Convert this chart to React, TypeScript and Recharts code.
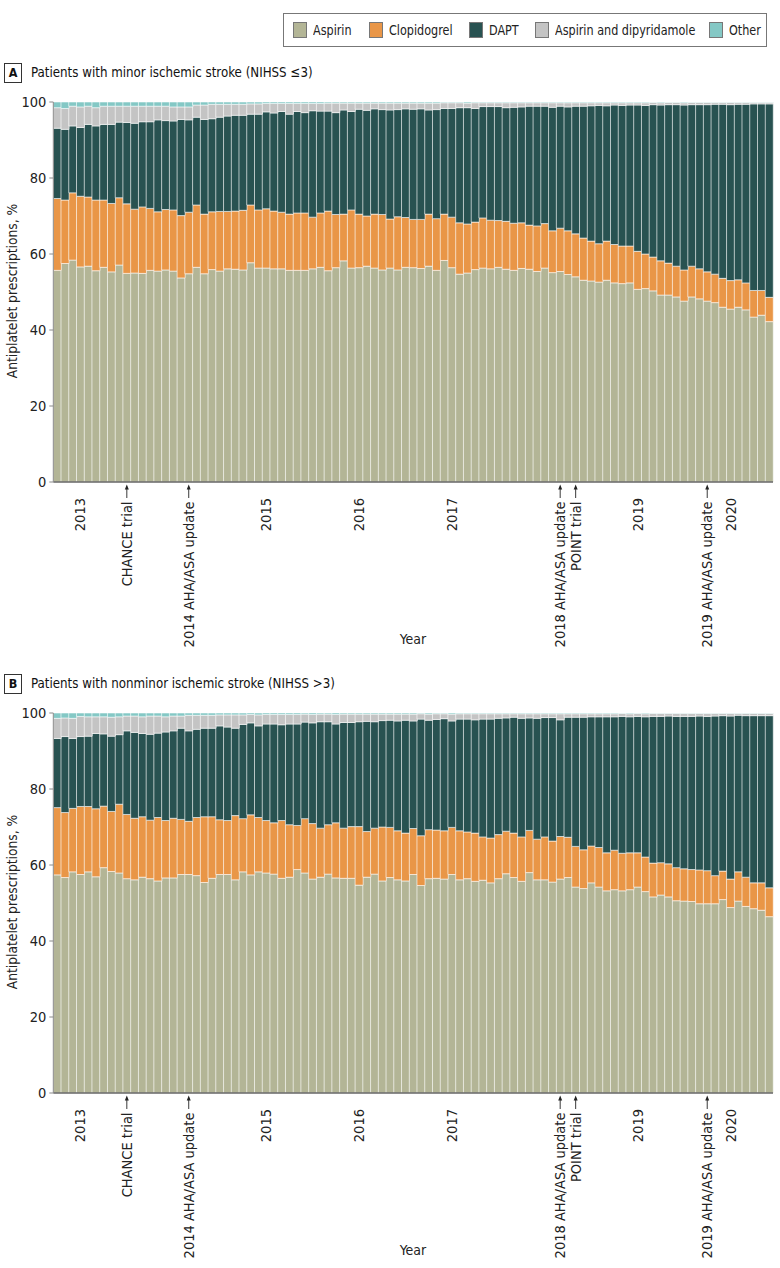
import React from "react";
import { Bar, BarChart, XAxis, YAxis } from "recharts";

const FONT = '"DejaVu Sans Condensed", "Liberation Sans Narrow", "Arial Narrow", sans-serif';

const COLORS = {
  aspirin: "#b3b596",
  clopidogrel: "#e99647",
  dapt: "#285251",
  ad: "#c4c4c4",
  other: "#84c8c5",
};

// monthly bars, Oct 2012 to Jun 2020
const months: string[] = [];
for (let y = 2012; y <= 2020; y++) {
  for (let m = 1; m <= 12; m++) {
    if ((y === 2012 && m < 10) || (y === 2020 && m > 6)) continue;
    months.push(`${y}-${String(m).padStart(2, "0")}`);
  }
}

const yearTicks: Record<string, string> = {
  "2013-01": "2013",
  "2015-01": "2015",
  "2016-01": "2016",
  "2017-01": "2017",
  "2019-01": "2019",
  "2020-01": "2020",
};

const events: Record<string, string> = {
  "2013-07": "CHANCE trial",
  "2014-03": "2014 AHA/ASA update",
  "2018-03": "2018 AHA/ASA update",
  "2018-05": "POINT trial",
  "2019-10": "2019 AHA/ASA update",
};

// Panel A (minor stroke): upper edge of each band, %
const aspirinA = [
  55.7, 57.5, 58.4, 56.6, 56.8, 55.6, 56.5, 55.3, 57.1, 54.9, 55.0, 54.9, 55.7, 55.5, 55.8, 55.5, 53.7, 54.8, 56.5, 54.8, 55.9, 55.5, 56.1,
  56.0, 55.8, 57.7, 56.3, 56.3, 56.1, 56.1, 55.7, 55.7, 55.7, 56.1, 56.5, 55.6, 56.4, 58.2, 56.3, 56.4, 56.8, 56.3, 55.8, 56.3, 55.8, 56.5,
  56.4, 56.2, 56.8, 55.7, 58.3, 56.4, 54.7, 55.0, 55.9, 56.3, 56.1, 56.5, 56.0, 55.7, 56.2, 56.0, 55.4, 56.3, 55.1, 55.4, 54.6, 54.0, 53.1,
  52.9, 52.6, 53.1, 52.4, 52.2, 52.4, 50.7, 50.9, 50.3, 49.2, 49.2, 48.7, 47.6, 48.7, 48.2, 47.6, 47.2, 46.0, 45.5, 46.0, 45.3, 43.4, 43.9, 42.2,
];
const clopTopA = [
  74.6, 74.2, 76.1, 75.2, 75.0, 74.2, 74.2, 73.3, 74.8, 73.2, 71.8, 72.4, 72.0, 71.1, 71.7, 71.6, 70.1, 71.0, 72.9, 70.5, 71.1, 71.2, 71.2,
  71.3, 71.5, 72.9, 71.6, 71.9, 71.3, 71.0, 70.5, 70.8, 70.8, 69.7, 70.8, 71.3, 70.4, 70.5, 71.6, 70.5, 70.0, 70.5, 70.4, 69.2, 69.8, 69.6,
  69.1, 69.1, 70.5, 69.3, 70.5, 69.7, 68.2, 67.9, 68.4, 69.5, 68.9, 68.8, 68.6, 68.1, 68.2, 67.6, 67.4, 68.0, 66.1, 66.8, 66.1, 65.3, 64.2,
  63.4, 62.7, 63.4, 62.5, 62.1, 62.1, 60.7, 60.0, 59.2, 58.2, 57.6, 56.8, 55.8, 56.8, 56.1, 55.3, 54.7, 53.6, 53.0, 53.2, 52.4, 50.4, 50.4, 48.6,
];
const daptTopA = [
  93.1, 92.8, 93.7, 93.3, 94.1, 93.7, 94.1, 94.1, 94.7, 94.6, 94.4, 94.8, 94.8, 95.3, 95.1, 95.0, 95.4, 95.3, 96.0, 95.4, 95.6, 96.0, 96.3,
  96.5, 96.5, 96.8, 96.8, 97.4, 97.1, 97.5, 96.8, 97.5, 97.2, 97.7, 97.6, 97.6, 97.2, 97.9, 97.5, 98.1, 97.8, 98.2, 98.0, 97.9, 98.0, 98.2,
  98.1, 98.2, 97.9, 98.0, 98.3, 98.3, 98.5, 98.5, 98.3, 98.8, 98.8, 98.8, 98.5, 98.6, 98.7, 98.9, 98.9, 98.9, 98.6, 98.9, 98.7, 98.9, 98.9,
  99.0, 99.1, 99.0, 99.2, 99.1, 99.2, 99.2, 99.1, 99.3, 99.2, 99.3, 99.3, 99.2, 99.3, 99.3, 99.3, 99.4, 99.4, 99.3, 99.4, 99.4, 99.5, 99.5, 99.5,
];
const adTopA = [
  98.5, 98.3, 98.9, 98.7, 98.9, 98.5, 98.9, 98.9, 98.9, 98.9, 98.9, 98.9, 98.9, 98.9, 98.9, 98.7, 98.7, 98.7, 99.2, 99.2, 99.4, 99.4, 99.4,
  99.4, 99.4, 99.5, 99.5, 99.6, 99.6, 99.6, 99.6, 99.6, 99.6, 99.6, 99.6, 99.7, 99.7, 99.7, 99.7, 99.7, 99.7, 99.7, 99.7, 99.7, 99.7, 99.7,
  99.7, 99.7, 99.7, 99.7, 99.8, 99.8, 99.8, 99.7, 99.8, 99.8, 99.8, 99.8, 99.8, 99.8, 99.8, 99.8, 99.8, 99.8, 99.8, 99.8, 99.8, 99.8, 99.8,
  99.8, 99.8, 99.8, 99.8, 99.8, 99.8, 99.8, 99.8, 99.9, 99.8, 99.9, 99.9, 99.8, 99.9, 99.9, 99.9, 99.9, 99.9, 99.9, 99.9, 99.9, 99.9, 99.9, 99.9,
];

// Panel B (nonminor stroke)
const aspirinB = [
  57.4, 56.7, 58.2, 57.5, 58.2, 56.9, 59.3, 58.3, 57.9, 56.4, 56.1, 56.8, 56.4, 55.8, 56.6, 56.6, 57.5, 57.5, 57.2, 55.4, 56.5, 57.5, 57.5,
  56.1, 58.2, 57.4, 58.2, 57.9, 57.6, 56.5, 56.8, 58.8, 57.9, 56.3, 56.8, 57.6, 56.6, 56.5, 56.5, 54.7, 56.8, 57.6, 55.8,
  56.7, 56.1, 55.8, 57.5, 54.6, 56.4, 56.5, 56.3, 57.5, 56.1, 56.4, 55.7, 56.0, 55.3, 56.4, 57.7, 56.7, 55.7, 58.0, 56.1, 56.1, 55.5, 56.3, 56.7,
  54.2, 53.8, 55.3, 54.2, 53.2, 53.5, 53.2, 53.5, 54.2, 53.0, 51.6, 52.1, 51.6, 50.6, 50.5, 50.4, 49.8, 49.8, 49.8, 50.9, 48.8, 50.5, 49.1, 48.5, 48.1, 46.4,
];
const clopTopB = [
  75.1, 73.8, 74.9, 75.4, 75.4, 74.8, 75.5, 74.1, 76.0, 73.3, 72.3, 72.7, 71.8, 72.5, 71.7, 72.3, 72.0, 71.5, 72.5, 72.7, 72.7, 71.9, 71.7,
  73.0, 72.2, 73.2, 72.5, 71.7, 71.1, 71.7, 70.6, 70.4, 72.2, 70.9, 69.7, 70.6, 71.1, 69.7, 70.1, 70.1, 68.8, 69.7, 70.0,
  69.9, 69.0, 68.4, 69.6, 67.7, 69.3, 69.2, 69.0, 69.9, 69.0, 68.7, 68.4, 67.4, 67.1, 68.0, 68.9, 68.4, 67.4, 69.1, 66.8, 67.4, 66.3, 67.5, 67.3,
  64.9, 64.0, 65.0, 64.6, 63.2, 63.9, 63.1, 63.2, 63.2, 62.1, 60.5, 60.6, 60.3, 59.3, 59.0, 58.8, 58.7, 58.5, 57.2, 58.4, 56.3, 58.2, 56.8, 55.3, 55.3, 54.0,
];
const daptTopB = [
  93.3, 93.8, 93.3, 93.8, 93.9, 94.6, 94.5, 93.9, 94.3, 95.3, 94.9, 94.6, 94.4, 94.7, 95.0, 95.3, 96.0, 95.3, 95.7, 96.0, 96.0, 96.6, 96.3,
  96.0, 97.0, 97.4, 96.6, 97.1, 97.1, 96.9, 97.1, 97.1, 97.6, 97.4, 97.7, 97.7, 97.1, 97.5, 97.5, 97.7, 97.8, 97.7, 98.0,
  98.1, 97.9, 98.1, 97.9, 98.4, 98.1, 98.3, 98.5, 97.9, 98.4, 98.4, 98.2, 98.4, 98.4, 98.6, 98.7, 98.9, 98.6, 98.7, 98.6, 98.8, 98.8, 98.2, 98.9,
  98.9, 98.9, 99.0, 99.0, 99.0, 99.0, 99.1, 99.0, 99.1, 99.0, 99.1, 99.1, 99.2, 99.1, 99.1, 99.1, 99.2, 99.1, 99.2, 99.3, 99.2, 99.4, 99.3, 99.3, 99.3, 99.3,
];
const adTopB = [
  98.6, 98.7, 98.6, 99.1, 99.0, 99.0, 99.0, 98.9, 99.0, 99.2, 99.2, 99.0, 99.2, 99.2, 99.0, 99.2, 99.2, 99.4, 99.4, 99.4, 99.4, 99.5, 99.5,
  99.5, 99.5, 99.6, 99.5, 99.6, 99.6, 99.6, 99.6, 99.6, 99.7, 99.6, 99.7, 99.7, 99.6, 99.7, 99.7, 99.7, 99.7, 99.7, 99.7,
  99.7, 99.7, 99.7, 99.7, 99.8, 99.7, 99.8, 99.8, 99.7, 99.8, 99.8, 99.8, 99.8, 99.8, 99.8, 99.8, 99.8, 99.8, 99.8, 99.8, 99.8, 99.8, 99.8, 99.8,
  99.8, 99.8, 99.8, 99.8, 99.8, 99.8, 99.9, 99.8, 99.9, 99.8, 99.9, 99.9, 99.9, 99.9, 99.9, 99.9, 99.9, 99.9, 99.9, 99.9, 99.9, 99.9, 99.9, 99.9, 99.9, 99.9,
];

type Row = { month: string; aspirin: number; clopidogrel: number; dapt: number; ad: number; other: number };

function buildRows(asp: number[], clop: number[], dapt: number[], ad: number[]): Row[] {
  return months.map((month, i) => ({
    month,
    aspirin: asp[i],
    clopidogrel: clop[i] - asp[i],
    dapt: dapt[i] - clop[i],
    ad: ad[i] - dapt[i],
    other: 100 - ad[i],
  }));
}

const rowsA = buildRows(aspirinA, clopTopA, daptTopA, adTopA);
const rowsB = buildRows(aspirinB, clopTopB, daptTopB, adTopB);

const series: { key: keyof typeof COLORS; name: string }[] = [
  { key: "aspirin", name: "Aspirin" },
  { key: "clopidogrel", name: "Clopidogrel" },
  { key: "dapt", name: "DAPT" },
  { key: "ad", name: "Aspirin and dipyridamole" },
  { key: "other", name: "Other" },
];

function MonthTick(props: any) {
  const { x, y, payload } = props;
  const v = payload?.value;
  if (events[v]) {
    return (
      <g>
        <line x1={x} y1={y + 5} x2={x} y2={y + 16} stroke="#222" strokeWidth={0.9} />
        <path d={`M${x - 2},${y + 7.5} L${x},${y + 2.5} L${x + 2},${y + 7.5} Z`} fill="#222" />
        <text
          transform={`translate(${x},${y + 19.5}) rotate(-90)`}
          textAnchor="end"
          dy="0.35em"
          fontSize={14.5}
          fill="#222"
          fontFamily={FONT}
        >
          {events[v]}
        </text>
      </g>
    );
  }
  if (yearTicks[v]) {
    return (
      <text
        transform={`translate(${x},${y + 16}) rotate(-90)`}
        textAnchor="end"
        dy="0.35em"
        fontSize={14.5}
        fill="#222"
        fontFamily={FONT}
      >
        {yearTicks[v]}
      </text>
    );
  }
  return <g />;
}

// condensed text: the reference face is narrower than DejaVu Sans Condensed
const squeeze = (k: number): React.CSSProperties => ({
  display: "inline-block",
  transform: `scaleX(${k})`,
  transformOrigin: "left center",
  whiteSpace: "nowrap",
});

function Panel({ rows, plotTop, letter, title }: { rows: Row[]; plotTop: number; letter: string; title: string }) {
  return (
    <>
      <div
        style={{
          position: "absolute",
          left: 4,
          top: plotTop - 39,
          width: 16,
          height: 18,
          border: "1px solid #333",
          fontSize: 12.5,
          fontWeight: 700,
          lineHeight: "18px",
          textAlign: "center",
          color: "#111",
        }}
      >
        {letter}
      </div>
      <div
        style={{
          position: "absolute",
          left: 31,
          top: plotTop - 40,
          fontSize: 14.5,
          lineHeight: "20px",
          color: "#111",
        }}
      >
        <span style={squeeze(0.91)}>{title}</span>
      </div>
      <div
        style={{
          position: "absolute",
          left: 12,
          top: plotTop + 189,
          transform: "translate(-50%, -50%) rotate(-90deg)",
          fontSize: 13.7,
          color: "#222",
          whiteSpace: "nowrap",
        }}
      >
        Antiplatelet prescriptions, %
      </div>
      <div
        style={{
          position: "absolute",
          left: 413,
          top: plotTop + 537,
          transform: "translate(-50%, -50%)",
          fontSize: 14,
          color: "#222",
        }}
      >
        Year
      </div>
      <div style={{ position: "absolute", left: 0, top: plotTop - 12 }}>
        <BarChart
          width={780}
          height={560}
          data={rows}
          margin={{ top: 12, right: 7, bottom: 28, left: 8.3 }}
          barCategoryGap={0}
          barGap={0}
        >
          <XAxis
            dataKey="month"
            interval={0}
            tickSize={0}
            tickMargin={0}
            tickLine={false}
            height={140}
            axisLine={{ stroke: "#666", strokeWidth: 1.5 }}
            tick={(p: any) => <MonthTick {...p} />}
          />
          <YAxis
            domain={[0, 100]}
            ticks={[0, 20, 40, 60, 80, 100]}
            width={45}
            tickSize={4}
            tickMargin={3}
            axisLine={{ stroke: "#8a8a8a" }}
            tickLine={{ stroke: "#8a8a8a" }}
            tick={{ fontSize: 14.5, fill: "#222", fontFamily: FONT }}
          />
          {series.map((s) => (
            <Bar
              key={s.key}
              dataKey={s.key}
              name={s.name}
              stackId="rx"
              fill={COLORS[s.key]}
              stroke="#ffffff"
              strokeOpacity={0.55}
              strokeWidth={1}
              isAnimationActive={false}
            />
          ))}
        </BarChart>
      </div>
    </>
  );
}

// legend swatch left edges, page px
const legendX = [293, 368.5, 469, 535, 709];

function LegendBox() {
  return (
    <>
      <div
        style={{
          position: "absolute",
          left: 283,
          top: 13,
          width: 482,
          height: 32,
          border: "1px solid #777",
        }}
      />
      {series.map((s, i) => (
        <div
          key={s.key}
          style={{
            position: "absolute",
            left: legendX[i],
            top: 21,
            height: 18,
            display: "flex",
            alignItems: "center",
            fontSize: 14.5,
            color: "#222",
          }}
        >
          <span
            style={{
              display: "inline-block",
              flex: "none",
              width: 12,
              height: 14,
              background: COLORS[s.key],
              border: "1px solid #777",
              marginRight: 6,
            }}
          />
          <span style={squeeze(0.86)}>{s.name}</span>
        </div>
      ))}
    </>
  );
}

export default function App() {
  return (
    <div style={{ position: "absolute", left: 0, top: 0, width: 780, height: 1268, background: "#fff", fontFamily: FONT }}>
      <LegendBox />
      <Panel rows={rowsA} plotTop={102.3} letter="A" title="Patients with minor ischemic stroke (NIHSS ≤3)" />
      <Panel rows={rowsB} plotTop={712.7} letter="B" title="Patients with nonminor ischemic stroke (NIHSS >3)" />
    </div>
  );
}
